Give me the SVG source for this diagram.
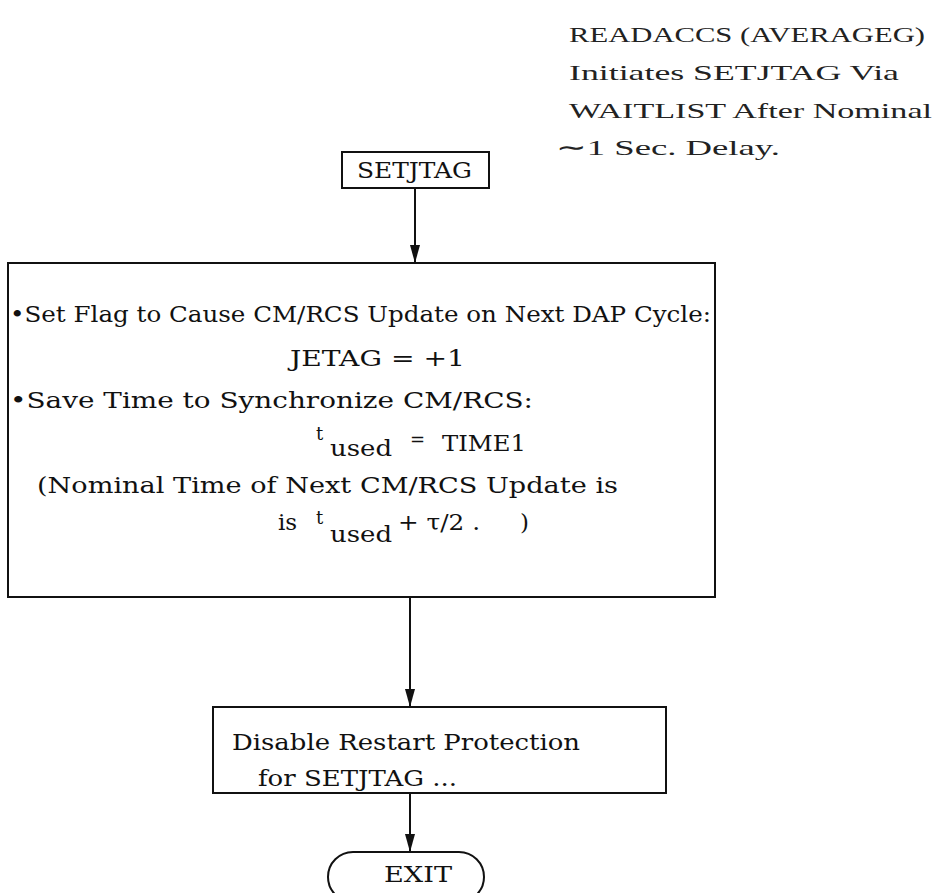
<svg xmlns="http://www.w3.org/2000/svg" width="938" height="893" viewBox="0 0 938 893">
<defs>
<style>
.t{font-family:"DejaVu Serif","Liberation Serif",serif;font-size:23px;fill:#111;}
.n{font-family:"Liberation Serif","DejaVu Serif",serif;font-size:22px;fill:#222;}
.s{font-family:"DejaVu Serif","Liberation Serif",serif;font-size:18px;fill:#111;}
.box{fill:#fff;stroke:#111;stroke-width:2;}
.c{stroke:#111;stroke-width:2;fill:none;}
</style>
<marker id="ah" viewBox="0 0 18 10" refX="18" refY="5" markerWidth="18" markerHeight="10" markerUnits="userSpaceOnUse" orient="auto">
<path d="M0,0 L18,5 L0,10 Z" fill="#111"/>
</marker>
</defs>
<rect width="938" height="893" fill="#fff"/>
<g id="note">
<text class="n" x="569" y="42" textLength="356" lengthAdjust="spacingAndGlyphs">READACCS (AVERAGEG)</text>
<text class="n" x="569" y="80" textLength="330" lengthAdjust="spacingAndGlyphs">Initiates SETJTAG Via</text>
<text class="n" x="569" y="118" textLength="363" lengthAdjust="spacingAndGlyphs">WAITLIST After Nominal</text>
<text class="n" x="556" y="155" textLength="224" lengthAdjust="spacingAndGlyphs"><tspan font-weight="bold">∼</tspan>1 Sec. Delay.</text>
</g>
<g id="connectors">
<line class="c" x1="415" y1="188" x2="415" y2="263" marker-end="url(#ah)"/>
<line class="c" x1="410" y1="597" x2="410" y2="707" marker-end="url(#ah)"/>
<line class="c" x1="410" y1="793" x2="410" y2="852" marker-end="url(#ah)"/>
</g>
<g id="setjtag">
<rect class="box" x="342" y="152" width="147" height="36"/>
<text class="t" x="357" y="178" textLength="115" lengthAdjust="spacingAndGlyphs">SETJTAG</text>
</g>
<g id="setflag">
<rect class="box" x="8" y="263" width="707" height="334"/>
<text class="t" x="10" y="322" textLength="701" lengthAdjust="spacingAndGlyphs">•Set Flag to Cause CM/RCS Update on Next DAP Cycle:</text>
<text class="t" x="290" y="366" textLength="175" lengthAdjust="spacingAndGlyphs">JETAG  =  +1</text>
<text class="t" x="10" y="408" textLength="523" lengthAdjust="spacingAndGlyphs">•Save Time to Synchronize CM/RCS:</text>
<text class="s" x="316" y="440">t</text>
<text class="t" x="330" y="456" textLength="62" lengthAdjust="spacingAndGlyphs">used</text>
<text class="s" x="410" y="446">=</text>
<text class="t" x="442" y="451" textLength="84" lengthAdjust="spacingAndGlyphs">TIME1</text>
<text class="t" x="37" y="493" textLength="581" lengthAdjust="spacingAndGlyphs">(Nominal Time of Next CM/RCS Update is</text>
<text class="t" x="278" y="530">is</text>
<text class="s" x="316" y="524">t</text>
<text class="t" x="330" y="542" textLength="62" lengthAdjust="spacingAndGlyphs">used</text>
<text class="t" x="398" y="530" textLength="82" lengthAdjust="spacingAndGlyphs">+ τ/2 .</text>
<text class="t" x="520" y="530">)</text>
</g>
<g id="disable">
<rect class="box" x="213" y="707" width="453" height="86"/>
<text class="t" x="232" y="750" textLength="348" lengthAdjust="spacingAndGlyphs">Disable Restart Protection</text>
<text class="t" x="258" y="786" textLength="199" lengthAdjust="spacingAndGlyphs">for SETJTAG ...</text>
</g>
<g id="exit">
<rect class="box" x="328" y="852" width="156" height="50" rx="25" ry="25"/>
<text class="t" x="384" y="882" textLength="68" lengthAdjust="spacingAndGlyphs">EXIT</text>
</g>
</svg>
